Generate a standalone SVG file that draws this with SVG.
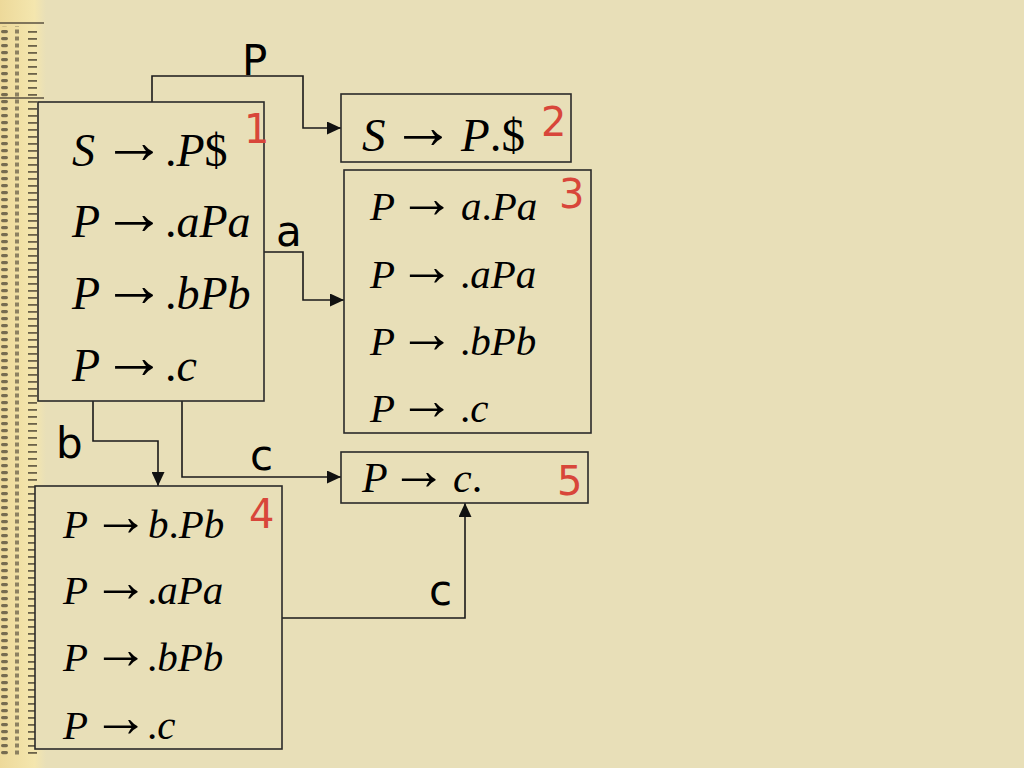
<svg xmlns="http://www.w3.org/2000/svg" width="1024" height="768" viewBox="0 0 1024 768">
<defs>
<style>
.box{fill:#E8DFB8;stroke:#2a2a2a;stroke-width:1.6}
.conn{fill:none;stroke:#1a1a1a;stroke-width:1.6}
.m{font-family:"Liberation Serif","Times New Roman",serif;fill:#000}
.i{font-style:italic}
.ar{font-size:64px}
.ars{font-size:57px}
.lbl{font-family:"DejaVu Sans",Verdana,sans-serif;font-size:42px;fill:#000}
.num{font-family:"DejaVu Sans",Verdana,sans-serif;font-size:40px;fill:#D8463A}
</style>
<marker id="ah" markerWidth="14" markerHeight="13" refX="14" refY="6.5" orient="auto" markerUnits="userSpaceOnUse">
<path d="M0,0 L14,6.5 L0,13 Z" fill="#111"/>
</marker>
<linearGradient id="stripg" x1="0" y1="0" x2="1" y2="0">
<stop offset="0" stop-color="#EDD99A"/>
<stop offset="0.75" stop-color="#F4E6AE"/>
<stop offset="1" stop-color="#E8DFB8"/>
</linearGradient>
<pattern id="ledger" width="44" height="7" patternUnits="userSpaceOnUse">
<rect x="1" y="2" width="7" height="3.2" rx="1.6" fill="#4e4636"/>
<rect x="15" y="1.5" width="4" height="4" fill="#6a604a"/>
<rect x="28" y="3" width="9" height="1.8" fill="#3e3628"/>
</pattern>
</defs>
<rect width="1024" height="768" fill="#E8DFB8"/>
<g id="strip">
<rect x="0" y="0" width="46" height="768" fill="url(#stripg)"/>
<rect x="0" y="26" width="40" height="730" fill="url(#ledger)" opacity="0.75"/>
<line x1="0" y1="23" x2="44" y2="23" stroke="#5a5040" stroke-width="1.5"/>
<line x1="0" y1="98" x2="44" y2="98" stroke="#5a5040" stroke-width="1.5"/>
</g>
<g id="connectors">
<polyline class="conn" points="152,102 152,76 303,76 303,128 341,128" marker-end="url(#ah)"/>
<polyline class="conn" points="264,252 303,252 303,300 344,300" marker-end="url(#ah)"/>
<polyline class="conn" points="93,401 93,441 158,441 158,486" marker-end="url(#ah)"/>
<polyline class="conn" points="182,401 182,477 341,477" marker-end="url(#ah)"/>
<polyline class="conn" points="282,618 465,618 465,503" marker-end="url(#ah)"/>
<text class="lbl" x="242" y="75">P</text>
<text class="lbl" x="276" y="246">a</text>
<text class="lbl" x="56" y="458">b</text>
<text class="lbl" x="250" y="470">c</text>
<text class="lbl" x="429" y="605">c</text>
</g>
<g id="node1">
<rect class="box" x="38" y="102" width="226" height="299"/>
<text class="m" font-size="46" y="166"><tspan x="72" class="i">S</tspan><tspan x="102" class="ar" dy="-3">→</tspan><tspan x="165" dy="3">.</tspan><tspan class="i">P</tspan><tspan>$</tspan></text>
<text class="m" font-size="46" y="237"><tspan x="72" class="i">P</tspan><tspan x="102" class="ar" dy="-3">→</tspan><tspan x="165" dy="3">.</tspan><tspan class="i">aPa</tspan></text>
<text class="m" font-size="46" y="309"><tspan x="72" class="i">P</tspan><tspan x="102" class="ar" dy="-3">→</tspan><tspan x="165" dy="3">.</tspan><tspan class="i">bPb</tspan></text>
<text class="m" font-size="46" y="381"><tspan x="72" class="i">P</tspan><tspan x="102" class="ar" dy="-3">→</tspan><tspan x="165" dy="3">.</tspan><tspan class="i">c</tspan></text>
<text class="num" x="244" y="143">1</text>
</g>
<g id="node2">
<rect class="box" x="341" y="94" width="230" height="68"/>
<text class="m" font-size="47" y="151"><tspan x="362" class="i">S</tspan><tspan x="391" class="ar" dy="-3">→</tspan><tspan x="461" class="i" dy="3">P</tspan><tspan>.$</tspan></text>
<text class="num" x="541" y="136">2</text>
</g>
<g id="node3">
<rect class="box" x="344" y="170" width="247" height="263"/>
<text class="m" font-size="41" y="220"><tspan x="370" class="i">P</tspan><tspan x="398" class="ars" dy="-3">→</tspan><tspan x="461" class="i" dy="3">a</tspan><tspan>.</tspan><tspan class="i">Pa</tspan></text>
<text class="m" font-size="41" y="288"><tspan x="370" class="i">P</tspan><tspan x="398" class="ars" dy="-3">→</tspan><tspan x="460" dy="3">.</tspan><tspan class="i">aPa</tspan></text>
<text class="m" font-size="41" y="355"><tspan x="370" class="i">P</tspan><tspan x="398" class="ars" dy="-3">→</tspan><tspan x="460" dy="3">.</tspan><tspan class="i">bPb</tspan></text>
<text class="m" font-size="41" y="422"><tspan x="370" class="i">P</tspan><tspan x="398" class="ars" dy="-3">→</tspan><tspan x="460" dy="3">.</tspan><tspan class="i">c</tspan></text>
<text class="num" x="559" y="208">3</text>
</g>
<g id="node4">
<rect class="box" x="35" y="486" width="247" height="263"/>
<text class="m" font-size="41" y="538"><tspan x="63" class="i">P</tspan><tspan x="92" class="ars" dy="-3">→</tspan><tspan x="148" class="i" dy="3">b</tspan><tspan>.</tspan><tspan class="i">Pb</tspan></text>
<text class="m" font-size="41" y="604"><tspan x="63" class="i">P</tspan><tspan x="92" class="ars" dy="-3">→</tspan><tspan x="147" dy="3">.</tspan><tspan class="i">aPa</tspan></text>
<text class="m" font-size="41" y="671"><tspan x="63" class="i">P</tspan><tspan x="92" class="ars" dy="-3">→</tspan><tspan x="147" dy="3">.</tspan><tspan class="i">bPb</tspan></text>
<text class="m" font-size="41" y="739"><tspan x="63" class="i">P</tspan><tspan x="92" class="ars" dy="-3">→</tspan><tspan x="147" dy="3">.</tspan><tspan class="i">c</tspan></text>
<text class="num" x="249" y="528">4</text>
</g>
<g id="node5">
<rect class="box" x="341" y="452" width="247" height="51"/>
<text class="m" font-size="42" y="492"><tspan x="362" class="i">P</tspan><tspan x="390" class="ars" dy="-3">→</tspan><tspan x="453" class="i" dy="3">c</tspan><tspan>.</tspan></text>
<text class="num" x="557" y="495">5</text>
</g>
</svg>
